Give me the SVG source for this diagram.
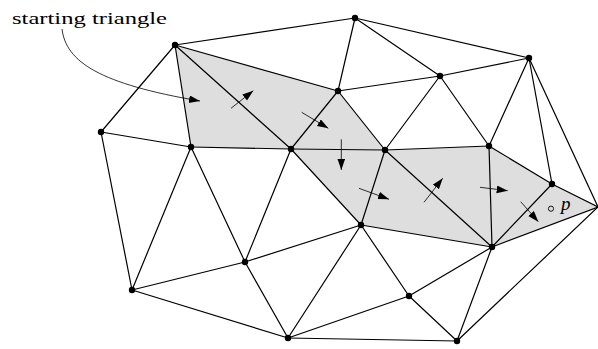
<svg xmlns="http://www.w3.org/2000/svg" width="598" height="349" viewBox="0 0 598 349">
<style>
.e{stroke:#000;stroke-width:1.2;fill:none;stroke-linecap:round}
.a{stroke:#000;stroke-width:0.8;fill:none}
.v{fill:#000}
</style>
<defs>
<marker id="ah" markerUnits="userSpaceOnUse" markerWidth="12" markerHeight="9" refX="11" refY="3.8" orient="auto">
<path d="M0,0 L11,3.8 L0,7.6 z" fill="#000"/>
</marker>
</defs>
<g id="shaded">
<polygon points="175,45 338,91 385,150 489,146 552,184 598,207 492,247 361,225 291,149 191,147" fill="#dedede"/>
</g>
<g id="connectors">
<line class="e" x1="175" y1="45" x2="355" y2="18"/>
<line class="e" x1="175" y1="45" x2="101" y2="132"/>
<line class="e" x1="175" y1="45" x2="191" y2="147"/>
<line class="e" x1="175" y1="45" x2="291" y2="149"/>
<line class="e" x1="175" y1="45" x2="338" y2="91"/>
<line class="e" x1="355" y1="18" x2="338" y2="91"/>
<line class="e" x1="355" y1="18" x2="440" y2="76"/>
<line class="e" x1="355" y1="18" x2="529" y2="58"/>
<line class="e" x1="338" y1="91" x2="440" y2="76"/>
<line class="e" x1="338" y1="91" x2="291" y2="149"/>
<line class="e" x1="338" y1="91" x2="385" y2="150"/>
<line class="e" x1="440" y1="76" x2="385" y2="150"/>
<line class="e" x1="440" y1="76" x2="489" y2="146"/>
<line class="e" x1="440" y1="76" x2="529" y2="58"/>
<line class="e" x1="529" y1="58" x2="489" y2="146"/>
<line class="e" x1="529" y1="58" x2="552" y2="184"/>
<line class="e" x1="529" y1="58" x2="598" y2="207"/>
<line class="e" x1="101" y1="132" x2="191" y2="147"/>
<line class="e" x1="101" y1="132" x2="132" y2="290"/>
<line class="e" x1="191" y1="147" x2="291" y2="149"/>
<line class="e" x1="191" y1="147" x2="245" y2="262"/>
<line class="e" x1="191" y1="147" x2="132" y2="290"/>
<line class="e" x1="291" y1="149" x2="385" y2="150"/>
<line class="e" x1="291" y1="149" x2="245" y2="262"/>
<line class="e" x1="291" y1="149" x2="361" y2="225"/>
<line class="e" x1="385" y1="150" x2="361" y2="225"/>
<line class="e" x1="385" y1="150" x2="492" y2="247"/>
<line class="e" x1="385" y1="150" x2="489" y2="146"/>
<line class="e" x1="489" y1="146" x2="492" y2="247"/>
<line class="e" x1="489" y1="146" x2="552" y2="184"/>
<line class="e" x1="552" y1="184" x2="492" y2="247"/>
<line class="e" x1="552" y1="184" x2="598" y2="207"/>
<line class="e" x1="492" y1="247" x2="598" y2="207"/>
<line class="e" x1="598" y1="207" x2="457" y2="341"/>
<line class="e" x1="361" y1="225" x2="492" y2="247"/>
<line class="e" x1="361" y1="225" x2="245" y2="262"/>
<line class="e" x1="361" y1="225" x2="409" y2="296"/>
<line class="e" x1="361" y1="225" x2="288" y2="338"/>
<line class="e" x1="492" y1="247" x2="409" y2="296"/>
<line class="e" x1="492" y1="247" x2="457" y2="341"/>
<line class="e" x1="245" y1="262" x2="132" y2="290"/>
<line class="e" x1="245" y1="262" x2="288" y2="338"/>
<line class="e" x1="132" y1="290" x2="288" y2="338"/>
<line class="e" x1="409" y1="296" x2="288" y2="338"/>
<line class="e" x1="288" y1="338" x2="457" y2="341"/>
<line class="e" x1="409" y1="296" x2="457" y2="341"/>
</g>
<g id="walk-arrows">
<path class="a" d="M62,29 C66,62 100,84 200,101" marker-end="url(#ah)"/>
<line class="a" x1="231" y1="108.3" x2="253.3" y2="90.7" marker-end="url(#ah)"/>
<line class="a" x1="301.7" y1="112.3" x2="328.3" y2="128.3" marker-end="url(#ah)"/>
<line class="a" x1="341.3" y1="139.3" x2="341.3" y2="170" marker-end="url(#ah)"/>
<line class="a" x1="359" y1="188.3" x2="389" y2="199.3" marker-end="url(#ah)"/>
<line class="a" x1="424" y1="202.3" x2="442.7" y2="178.3" marker-end="url(#ah)"/>
<line class="a" x1="480" y1="187.3" x2="507.7" y2="190.7" marker-end="url(#ah)"/>
<line class="a" x1="520.7" y1="201.7" x2="538.3" y2="221.7" marker-end="url(#ah)"/>
</g>
<g id="vertices">
<circle class="v" cx="175" cy="45" r="3.2"/>
<circle class="v" cx="355" cy="18" r="3.2"/>
<circle class="v" cx="338" cy="91" r="3.2"/>
<circle class="v" cx="440" cy="76" r="3.2"/>
<circle class="v" cx="529" cy="58" r="3.2"/>
<circle class="v" cx="101" cy="132" r="3.2"/>
<circle class="v" cx="191" cy="147" r="3.2"/>
<circle class="v" cx="291" cy="149" r="3.2"/>
<circle class="v" cx="385" cy="150" r="3.2"/>
<circle class="v" cx="489" cy="146" r="3.2"/>
<circle class="v" cx="552" cy="184" r="3.2"/>
<circle class="v" cx="361" cy="225" r="3.2"/>
<circle class="v" cx="492" cy="247" r="3.2"/>
<circle class="v" cx="245" cy="262" r="3.2"/>
<circle class="v" cx="132" cy="290" r="3.2"/>
<circle class="v" cx="409" cy="296" r="3.2"/>
<circle class="v" cx="288" cy="338" r="3.2"/>
<circle class="v" cx="457" cy="341" r="3.2"/>
</g>
<g id="point-p">
<circle cx="551" cy="208.7" r="2.6" fill="none" stroke="#000" stroke-width="0.9"/>
<text x="561" y="210" font-family="'Liberation Serif', 'DejaVu Serif', serif" font-size="19" font-style="italic" fill="#000">p</text>
</g>
<g id="label">
<text x="12" y="24" font-family="'Liberation Serif', 'DejaVu Serif', serif" font-size="17.5" textLength="155" lengthAdjust="spacingAndGlyphs" fill="#000">starting triangle</text>
</g>
</svg>
